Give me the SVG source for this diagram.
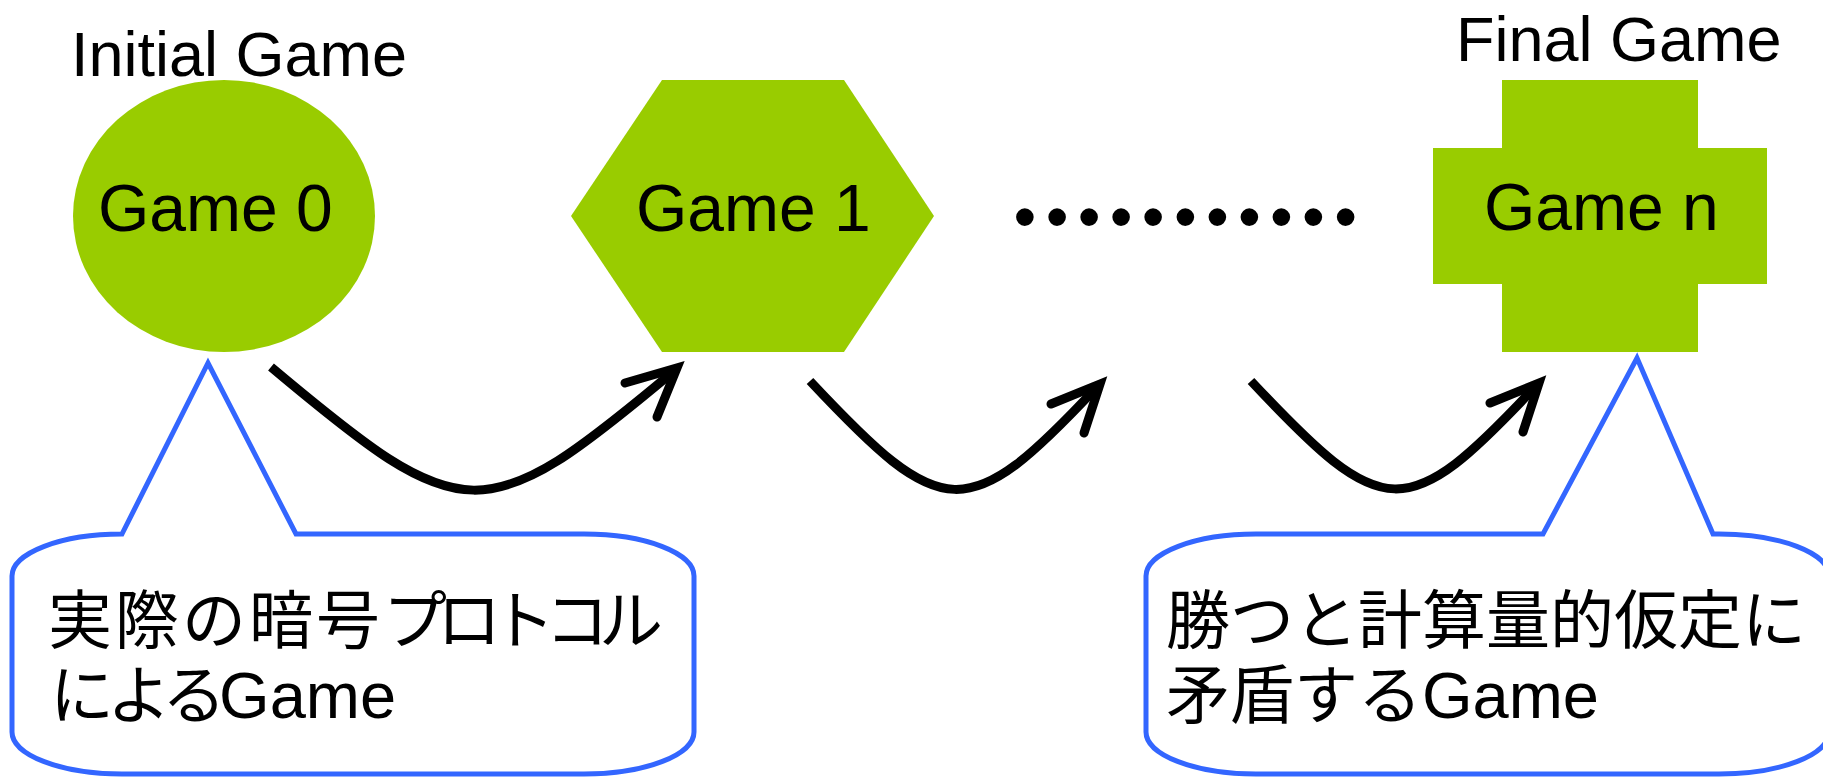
<svg xmlns="http://www.w3.org/2000/svg" width="1823" height="777" viewBox="0 0 1823 777">
<style>
.node{fill:#99CC00}
.lbl{font-family:"Liberation Sans",Arial,sans-serif;font-size:66px;fill:#000}
.title{font-family:"Liberation Sans",Arial,sans-serif;font-size:63px;fill:#000}
.call{fill:#fff;stroke:#3366FF;stroke-width:5;stroke-linejoin:miter}
.ctxt{font-family:"Liberation Sans","Noto Sans CJK JP",sans-serif;font-size:64px;fill:#000}
.shaft{fill:none;stroke:#000;stroke-width:9;stroke-linecap:butt}
.head{fill:none;stroke:#000;stroke-width:9;stroke-linecap:round;stroke-linejoin:miter;stroke-miterlimit:10}
.dots{font-family:"Liberation Sans",Arial,sans-serif;font-size:65px;fill:#000;letter-spacing:9.3px}
</style>
<rect width="1823" height="777" fill="#fff"/>
<g id="game0">
<text class="title" x="71" y="76">Initial Game</text>
<ellipse class="node" cx="224" cy="216" rx="151" ry="136"/>
<text class="lbl" x="98" y="231">Game 0</text>
</g>
<g id="game1">
<polygon class="node" points="571,216 662,80 844,80 934,216 844,352 662,352"/>
<text class="lbl" x="636" y="231">Game 1</text>
</g>
<g id="ellipsis">
<text class="dots" x="1013.6" y="239">•••••••••••</text>
</g>
<g id="gamen">
<text class="title" x="1456" y="61">Final Game</text>
<polygon class="node" points="1502,80 1698,80 1698,148 1767,148 1767,284 1698,284 1698,352 1502,352 1502,284 1433,284 1433,148 1502,148"/>
<text class="lbl" x="1484" y="230">Game n</text>
</g>
<g id="callout-initial">
<path class="call" d="M122,534 L208,363 L296,534 L584,534 A110,42 0 0 1 694,576 L694,732 A110,42 0 0 1 584,774 L122,774 A110,42 0 0 1 12,732 L12,576 A110,42 0 0 1 122,534 Z"/>
<text class="ctxt"><tspan x="48" y="643" letter-spacing="3">実際の暗号</tspan><tspan letter-spacing="-10">プロトコル</tspan><tspan x="50" y="718" letter-spacing="-7">による</tspan><tspan font-size="65">Game</tspan></text>
</g>
<g id="callout-final">
<path class="call" d="M1256,534 L1543,534 L1637,358 L1713,534 L1719,534 A110,42 0 0 1 1829,576 L1829,732 A110,42 0 0 1 1719,774 L1256,774 A110,42 0 0 1 1146,732 L1146,576 A110,42 0 0 1 1256,534 Z"/>
<text class="ctxt"><tspan x="1166" y="643">勝つと計算量的仮定に</tspan><tspan x="1166" y="718">矛盾する</tspan><tspan font-size="65">Game</tspan></text>
</g>
<g id="connectors">
<path class="shaft" d="M271,367 C465,530 483,531 674,371"/>
<polyline class="head" points="625,383 677,368 657,417"/>
<path class="shaft" d="M810,381 C943,523 967,526 1097,387"/>
<polyline class="head" points="1051,404 1100,384 1084,433"/>
<path class="shaft" d="M1251,381 C1384,523 1406,525 1536,386"/>
<polyline class="head" points="1490,403 1539,383 1523,432"/>
</g>
</svg>
